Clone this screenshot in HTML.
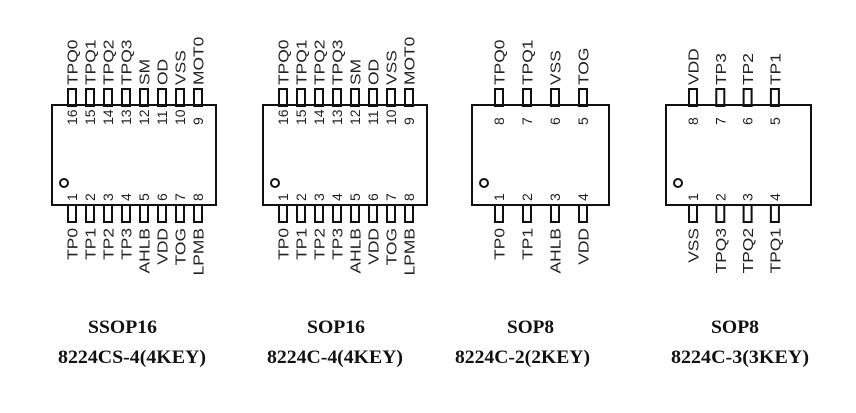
<!DOCTYPE html>
<html><head><meta charset="utf-8"><style>
html,body{margin:0;padding:0;background:#fff;}
svg{display:block;}
.l{font-family:"Liberation Sans",sans-serif;font-size:15px;fill:#222;}
.n{font-family:"Liberation Sans",sans-serif;font-size:14px;fill:#222;}
.c{font-family:"Liberation Serif",serif;font-weight:bold;font-size:19px;fill:#111;}
</style></head><body>
<svg id="s" width="856" height="413" viewBox="0 0 856 413" xmlns="http://www.w3.org/2000/svg">
<text class="c" x="88" y="333" textLength="69" lengthAdjust="spacingAndGlyphs">SSOP16</text>
<text class="c" x="58" y="363" textLength="148" lengthAdjust="spacingAndGlyphs">8224CS-4(4KEY)</text>
<text class="c" x="307" y="333" textLength="58" lengthAdjust="spacingAndGlyphs">SOP16</text>
<text class="c" x="267" y="363" textLength="136" lengthAdjust="spacingAndGlyphs">8224C-4(4KEY)</text>
<text class="c" x="507" y="333" textLength="47" lengthAdjust="spacingAndGlyphs">SOP8</text>
<text class="c" x="455" y="363" textLength="135" lengthAdjust="spacingAndGlyphs">8224C-2(2KEY)</text>
<text class="c" x="711" y="333" textLength="48" lengthAdjust="spacingAndGlyphs">SOP8</text>
<text class="c" x="671" y="363" textLength="138" lengthAdjust="spacingAndGlyphs">8224C-3(3KEY)</text>
</svg>
<script>
var s=document.getElementById('s'),NS='http://www.w3.org/2000/svg';
function el(t,a,txt){var e=document.createElementNS(NS,t);for(var k in a)e.setAttribute(k,a[k]);if(txt!=null)e.textContent=txt;s.appendChild(e);}
function chip(x0,x1,p0,pitch,bot,top){
 var n=bot.length;
 for(var i=0;i<n;i++){
  var cx=p0+i*pitch;
  el('rect',{x:cx-4,y:205,width:8,height:17,fill:'#fff',stroke:'#111','stroke-width':2});
  el('rect',{x:cx-4,y:89,width:8,height:17,fill:'#fff',stroke:'#111','stroke-width':2});
  el('text',{class:'l',transform:'translate('+(cx+5.5)+',228) rotate(-90) scale(1.16,1)','text-anchor':'end'},bot[i]);
  el('text',{class:'l',transform:'translate('+(cx+5.5)+',85) rotate(-90) scale(1.16,1)'},top[i]);
  el('text',{class:'n',transform:'translate('+(cx+5)+',201) rotate(-90)'},String(i+1));
  el('text',{class:'n',transform:'translate('+(cx+5)+',125) rotate(-90)'},String(2*n-i));
 }
 el('rect',{x:x0,y:105,width:x1-x0,height:100,fill:'none',stroke:'#111','stroke-width':2});
 el('circle',{cx:x0+12,cy:183,r:4,fill:'none',stroke:'#111','stroke-width':2});
}
chip(52,216,72,18,['TP0','TP1','TP2','TP3','AHLB','VDD','TOG','LPMB'],['TPQ0','TPQ1','TPQ2','TPQ3','SM','OD','VSS','MOT0']);
chip(263,427,283,18,['TP0','TP1','TP2','TP3','AHLB','VDD','TOG','LPMB'],['TPQ0','TPQ1','TPQ2','TPQ3','SM','OD','VSS','MOT0']);
chip(472,609,499,28,['TP0','TP1','AHLB','VDD'],['TPQ0','TPQ1','VSS','TOG']);
chip(666,811,693,27.3,['VSS','TPQ3','TPQ2','TPQ1'],['VDD','TP3','TP2','TP1']);
</script>
</body></html>
